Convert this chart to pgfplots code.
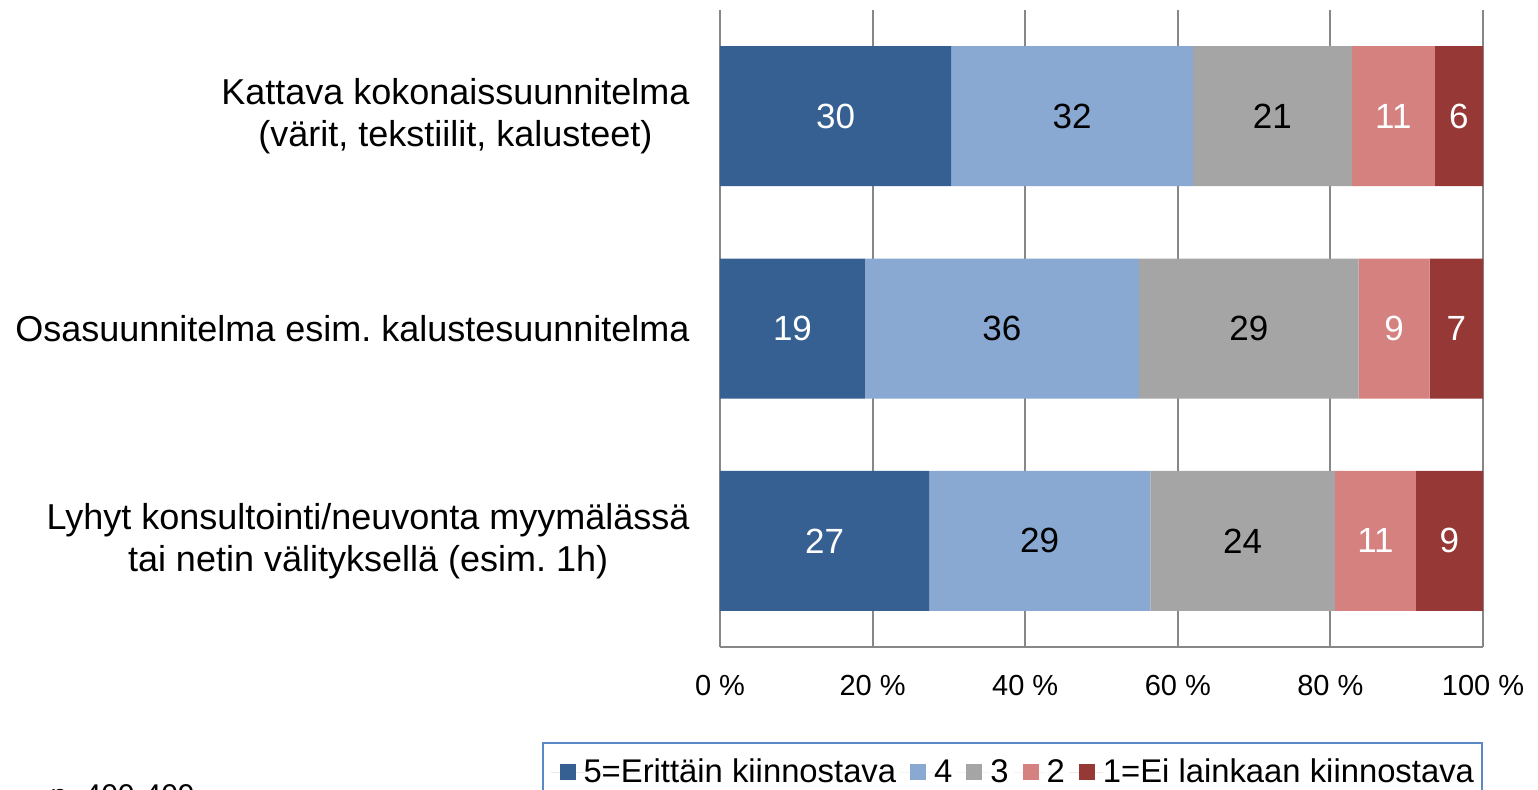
\documentclass[border=0pt]{standalone}
\usepackage{fontspec}
\setmainfont{Liberation Sans}
\usepackage{pgfplots}
\pgfplotsset{compat=1.18}
\frenchspacing
\definecolor{c1}{HTML}{376092}
\definecolor{c2}{HTML}{89A8D2}
\definecolor{c3}{HTML}{A5A5A5}
\definecolor{c4}{HTML}{D48180}
\definecolor{c5}{HTML}{953836}
\definecolor{gridgray}{HTML}{878787}
\definecolor{legblue}{HTML}{5A8AC6}
\begin{document}
\begin{tikzpicture}
\begin{axis}[
  at={(360pt,71pt)}, anchor=south west,
  scale only axis, width=381.5pt, height=318.5pt,
  xbar stacked, bar width=70pt,
  xmin=0, xmax=100, ymin=-0.5, ymax=2.5, y dir=reverse,
  ytick={0,1,2},
  yticklabels={{Kattava kokonaissuunnitelma\\(värit, tekstiilit, kalusteet)},
               {Osasuunnitelma esim. kalustesuunnitelma},
               {Lyhyt konsultointi/neuvonta myymälässä\\tai netin välityksellä (esim. 1h)}},
  yticklabel style={align=center, inner sep=0pt, xshift=-15pt,
     font=\fontsize{18}{21}\selectfont, text=black},
  xtick={0,20,...,100},
  xticklabel={\pgfmathprintnumber{\tick}~\%},
  /pgf/number format/assume math mode=true,
  xticklabel style={inner sep=0pt, yshift=-14pt, anchor=north,
     font=\fontsize{14.5}{17}\selectfont, text=black},
  major tick length=0pt,
  xmajorgrids,
  major grid style={draw=gridgray, line width=1pt},
  axis x line=bottom, axis y line=left,
  axis line style={-, draw=gridgray, line width=1pt},
  point meta=explicit symbolic,
  nodes near coords,
  every node near coord/.append style={font=\fontsize{17.5}{20}\selectfont},
  legend columns=5,
  legend style={at={(rel axis cs:1,0)}, anchor=north east, yshift=-47.5pt,
     draw=legblue, line width=1pt, font=\fontsize{16.4}{19}\selectfont,
     inner xsep=4pt, inner ysep=6pt,
     nodes={inner xsep=0pt},
     /tikz/every even column/.append style={column sep=2.5pt}},
  legend image code/.code={\fill[#1] (0pt,-4pt) rectangle (8pt,4pt); \path (-4.5pt,0pt) -- (12pt,0pt);},
]
\addplot[fill=c1, draw=none, every node near coord/.append style={text=white}]
  coordinates {(30.3,0) [30] (19.0,1) [19] (27.4,2) [27]};
\addplot[fill=c2, draw=none, every node near coord/.append style={text=black}]
  coordinates {(31.7,0) [32] (35.9,1) [36] (29.0,2) [29]};
\addplot[fill=c3, draw=none, every node near coord/.append style={text=black}]
  coordinates {(20.8,0) [21] (28.8,1) [29] (24.2,2) [24]};
\addplot[fill=c4, draw=none, every node near coord/.append style={text=white}]
  coordinates {(10.9,0) [11] (9.3,1) [9] (10.6,2) [11]};
\addplot[fill=c5, draw=none, every node near coord/.append style={text=white}]
  coordinates {(6.3,0) [6] (7.0,1) [7] (8.8,2) [9]};
\legend{5=Erittäin kiinnostava, 4, 3, 2, 1=Ei lainkaan kiinnostava}
\end{axis}
\node[anchor=base west, inner sep=0pt, font=\fontsize{15}{18}\selectfont] at (25pt,-8pt) {n=400-409};
\pgfresetboundingbox
\useasboundingbox (0,0) rectangle (769pt,394.5pt);
\end{tikzpicture}
\end{document}
